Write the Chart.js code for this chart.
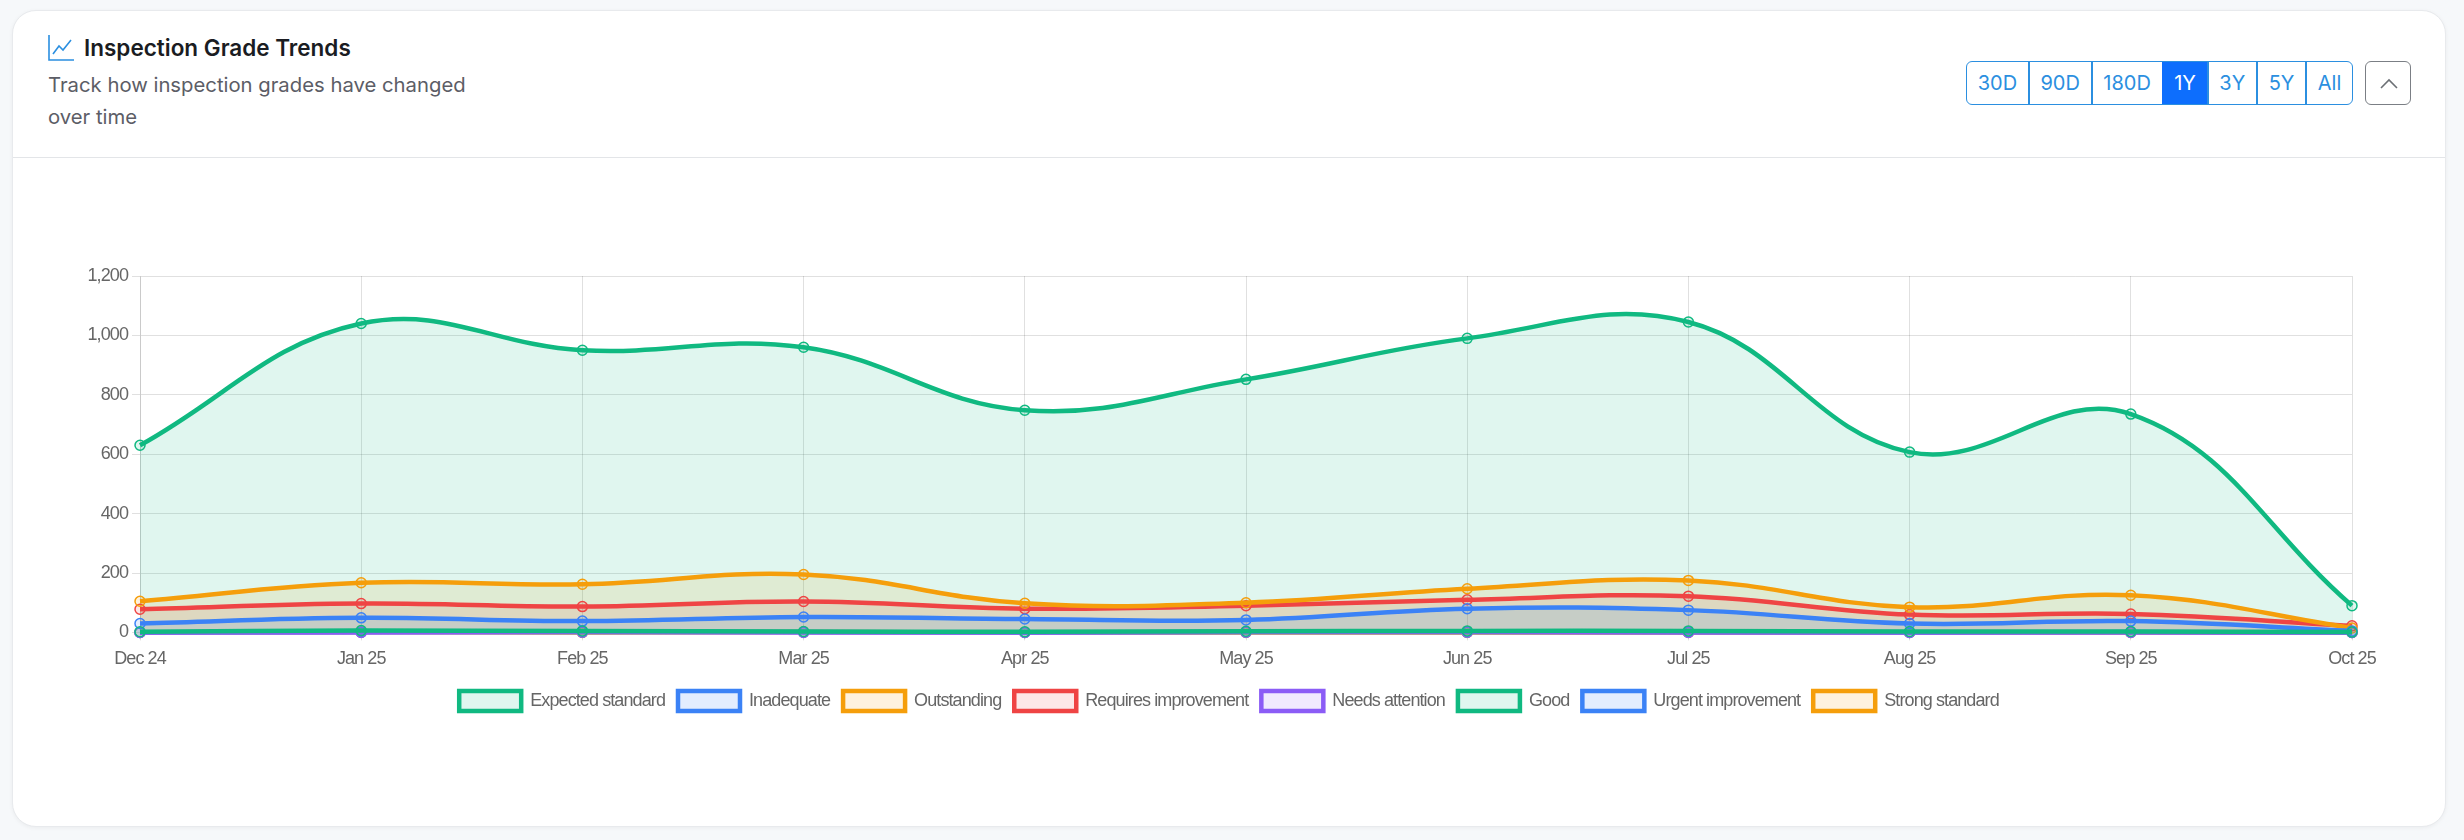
<!DOCTYPE html>
<html>
<head>
<meta charset="utf-8">
<title>Inspection Grade Trends</title>
<script src="https://cdn.jsdelivr.net/npm/chart.js@4/dist/chart.umd.min.js"></script>
<style>
  html, body { margin: 0; height: 100%; background: #f6f8fa; overflow: hidden; }
  .card { position: absolute; left: 12px; top: 10px; width: 2434px; height: 817px; background: #fff; border: 1px solid #e8eaed; border-radius: 24px; box-sizing: border-box; box-shadow: 0 1px 4px rgba(0,0,0,.05); }
  .head { position: absolute; left: 0; right: 0; top: 0; height: 146px; border-bottom: 1px solid #e3e5e8; }
  .icon { position: absolute; left: 35px; top: 24px; width: 26px; height: 26px; }
  h1 { position: absolute; left: 71px; top: 22px; margin: 0; font: 600 22.5px/30px Inter, sans-serif; color: #1a1c22; }
  .sub { position: absolute; left: 35px; top: 58px; width: 450px; font: 400 20.3px/32px Inter, sans-serif; color: #5c5d66; }
  .ranges { position: absolute; left: 1953px; top: 50px; display: flex; height: 44px; border: 1px solid #2b8fe0; border-radius: 6px; overflow: hidden; box-sizing: border-box; }
  .ranges span { display: block; padding: 0 10.7px; font: 400 20px/42px Inter, sans-serif; color: #2b8fe0; border-left: 2px solid #2b8fe0; }
  .ranges span:first-child { border-left: 0; }
  .ranges span.on { background: #0d6efd; color: #fff; border-left-color: #0d6efd; }
  .toggle { position: absolute; left: 2352px; top: 50px; width: 46px; height: 44px; border: 1px solid #7b7f85; border-radius: 6px; box-sizing: border-box; }
  .toggle svg { position: absolute; left: 12px; top: 11px; }
  .wrap { position: absolute; left: 60px; top: 230px; width: 2338px; height: 491px; }
</style>
</head>
<body>
<div class="card">
  <div class="head">
    <svg class="icon" viewBox="0 0 26 26" fill="none" stroke="#2b8fe0" stroke-width="1.6"><path d="M1 0V25H26"/><path d="M5 19L11 11L15 15L23 5"/></svg>
    <h1>Inspection Grade Trends</h1>
    <div class="sub">Track how inspection grades have changed over time</div>
    <div class="ranges" id="ranges"></div>
    <div class="toggle"><svg width="22" height="22" viewBox="0 0 22 22" fill="none" stroke="#6c7075" stroke-width="1.6"><path d="M3 15L11 7L19 15"/></svg></div>
  </div>
</div>
<div class="wrap"><canvas id="trendChart"></canvas></div>
<script>
const ranges = ['30D', '90D', '180D', '1Y', '3Y', '5Y', 'All'];
const activeRange = '1Y';
const months = ['Dec 24', 'Jan 25', 'Feb 25', 'Mar 25', 'Apr 25', 'May 25', 'Jun 25', 'Jul 25', 'Aug 25', 'Sep 25', 'Oct 25'];
const yTicks = [0, 200, 400, 600, 800, 1000, 1200];

const expectedStandard = [630, 1040, 950, 960, 748, 852, 990, 1045, 607, 735, 90];
const inadequate = [30, 49, 38, 52, 45, 42, 80, 75, 30, 38, 5];
const outstanding = [105, 167, 162, 195, 98, 100, 147, 175, 85, 125, 15];
const requiresImprovement = [78, 97, 87, 104, 80, 90, 110, 122, 60, 62, 22];
const needsAttention = [0, 0, 1, 0, 0, 1, 1, 0, 0, 0, 0];
const good = [2, 6, 5, 3, 2, 4, 5, 5, 3, 3, 1];
const urgentImprovement = [0, 1, 1, 1, 0, 1, 1, 1, 0, 1, 0];
const strongStandard = [0, 1, 0, 1, 0, 0, 0, 0, 0, 0, 0];

function series(label, data, color, fill, order) {
  return {
    label, data, order,
    borderColor: color,
    backgroundColor: fill,
    borderWidth: 4.5,
    fill: 'origin',
    tension: 0.4,
    pointRadius: 5,
    pointBorderWidth: 1.5,
    clip: false,
  };
}

const spacing = {
  id: 'spacing',
  beforeLayout(chart) { chart.ctx.letterSpacing = '-0.9px'; },
  beforeDraw(chart) { chart.ctx.letterSpacing = '-0.9px'; },
};

function init() {
  const box = document.getElementById('ranges');
  ranges.forEach((r) => {
    const s = document.createElement('span');
    s.textContent = r;
    if (r === activeRange) s.className = 'on';
    box.appendChild(s);
  });

  Chart.defaults.font.family = '"Liberation Sans", Arial, sans-serif';
  Chart.defaults.font.size = 18;
  Chart.defaults.color = '#666';

  new Chart(document.getElementById('trendChart'), {
    type: 'line',
    plugins: [spacing],
    data: {
      labels: months,
      datasets: [
        series('Expected standard', expectedStandard, '#10b981', 'rgba(16, 185, 129, 0.13)', 1),
        series('Inadequate', inadequate, '#3b82f6', 'rgba(59, 130, 246, 0.14)', 2),
        series('Outstanding', outstanding, '#f59e0b', 'rgba(245, 158, 11, 0.13)', 3),
        series('Requires improvement', requiresImprovement, '#ef4444', 'rgba(239, 68, 68, 0.13)', 4),
        series('Needs attention', needsAttention, '#8b5cf6', 'rgba(139, 92, 246, 0.13)', 6),
        series('Good', good, '#10b981', 'rgba(16, 185, 129, 0.13)', 0),
        series('Urgent improvement', urgentImprovement, '#3b82f6', 'rgba(59, 130, 246, 0.14)', 7),
        series('Strong standard', strongStandard, '#f59e0b', 'rgba(245, 158, 11, 0.13)', 8),
      ],
    },
    options: {
      responsive: true,
      maintainAspectRatio: false,
      animation: false,
      layout: { padding: { top: 46 } },
      plugins: {
        filler: { drawTime: 'beforeDatasetsDraw' },
        legend: {
          position: 'bottom',
          labels: {
            boxWidth: 62,
            boxHeight: 20,
            padding: 13,
            sort: (a, b) => a.datasetIndex - b.datasetIndex,
          },
        },
        tooltip: { enabled: false },
      },
      scales: {
        x: {
          offset: false,
          grid: { color: 'rgba(0,0,0,0.12)' },
          ticks: { maxRotation: 0, autoSkip: false, padding: 8 },
        },
        y: {
          min: 0,
          max: 1200,
          afterFit(scale) { scale.width = 80; },
          afterBuildTicks(scale) { scale.ticks = yTicks.map((value) => ({ value })); },
          grid: { color: 'rgba(0,0,0,0.12)' },
          ticks: { padding: 4 },
        },
        // empty right axis keeps the plot clear of the canvas edge without moving the legend
        gutter: {
          position: 'right',
          afterFit(scale) { scale.width = 46; },
          grid: { drawOnChartArea: false, drawTicks: false },
          border: { display: false },
          ticks: { display: false },
        },
      },
    },
  });
}

window.addEventListener('DOMContentLoaded', init);
</script>
</body>
</html>
